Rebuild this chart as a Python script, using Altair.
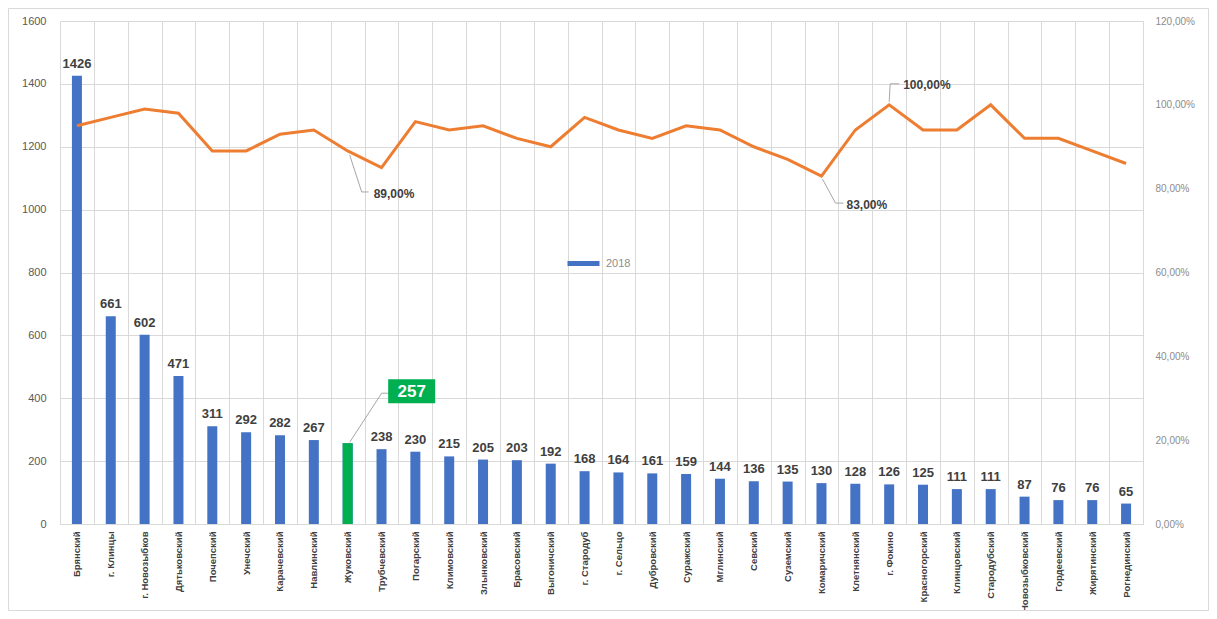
import altair as alt
import pandas as pd

categories = ["Брянский", "г. Клинцы", "г. Новозыбков", "Дятьковский", "Почепский", "Унечский",
              "Карачевский", "Навлинский", "Жуковский", "Трубчевский", "Погарский", "Климовский",
              "Злынковский", "Брасовский", "Выгоничский", "г. Стародуб", "г. Сельцо", "Дубровский",
              "Суражский", "Мглинский", "Севский", "Суземский", "Комаричский", "Клетнянский",
              "г. Фокино", "Красногорский", "Клинцовский", "Стародубский", "Новозыбковский",
              "Гордеевский", "Жирятинский", "Рогнединский"]
counts = [1426, 661, 602, 471, 311, 292, 282, 267, 257, 238, 230, 215, 205, 203, 192, 168,
          164, 161, 159, 144, 136, 135, 130, 128, 126, 125, 111, 111, 87, 76, 76, 65]
shares = [0.95, 0.97, 0.99, 0.98, 0.89, 0.89, 0.93, 0.94, 0.89, 0.85, 0.96, 0.94, 0.95, 0.92,
          0.90, 0.97, 0.94, 0.92, 0.95, 0.94, 0.90, 0.87, 0.83, 0.94, 1.00, 0.94, 0.94, 1.00,
          0.92, 0.92, 0.89, 0.86]
series_name = "2018"
highlight = "Жуковский"
share_labelled = ["Жуковский", "Комаричский", "г. Фокино"]
left_ticks = [0, 200, 400, 600, 800, 1000, 1200, 1400, 1600]
right_ticks = [0, 0.2, 0.4, 0.6, 0.8, 1.0, 1.2]

df = pd.DataFrame({"cat": categories, "count": counts, "share": shares, "series": series_name})
df["share_txt"] = [f"{v * 100:.2f}".replace(".", ",") + "%" for v in shares]

W, H = 1083, 503
FONT = "Liberation Sans"
BLUE, GREEN, ORANGE = "#4472C4", "#00B050", "#ED7D31"
LEAD = "#A6A6A6"

x_axis = alt.Axis(title=None, labelAngle=270, labelFontSize=9.5, labelFont=FONT,
                  labelFontWeight="bold", labelColor="#404040", grid=True, gridColor="#d9d9d9",
                  tickBand="extent", ticks=False, domainColor="#d9d9d9", labelPadding=7)
x_scale = alt.Scale(domain=categories, paddingInner=0, paddingOuter=0)
X = alt.X("cat:N", sort=categories, scale=x_scale, axis=x_axis)
XR = alt.X("cat:N", sort=categories, scale=x_scale, axis=x_axis, bandPosition=0.5)
X2R = alt.X2("cat:N", bandPosition=0.5)

Y = alt.Y("count:Q", scale=alt.Scale(domain=[0, 1600], nice=False),
          axis=alt.Axis(values=left_ticks, format="d", title=None, grid=True, gridColor="#d9d9d9",
                        domain=False, ticks=False, labelColor="#595959", labelFontSize=11,
                        labelFont=FONT, labelPadding=14))
Y2 = alt.Y2("count:Q")
YS = alt.Y("share:Q", scale=alt.Scale(domain=[0, 1.2], nice=False),
           axis=alt.Axis(orient="right", values=right_ticks, title=None, grid=False,
                         domain=False, ticks=False, labelColor="#8c8c8c", labelFontSize=10,
                         labelFont=FONT, labelPadding=12,
                         labelExpr="replace(format(datum.value * 100, '.2f'), '.', ',') + '%'"))
YS2 = alt.Y2("share:Q")

base = alt.Chart(df)

bars = base.mark_bar(size=10).encode(
    x=X, y=Y,
    color=alt.Color("series:N", scale=alt.Scale(domain=[series_name], range=[BLUE]),
                    legend=alt.Legend(title=None, orient="none", legendX=505, legendY=224,
                                      symbolType="stroke", symbolSize=1024, symbolStrokeWidth=5,
                                      symbolStrokeColor=BLUE, labelFontSize=11, labelFont=FONT,
                                      labelColor="#8c8c8c", padding=0)))
hl = base.transform_filter(alt.datum.cat == highlight)
green_bar = hl.mark_bar(size=10, color=GREEN).encode(x=X, y=Y)

bar_labels = base.transform_filter(alt.datum.cat != highlight).mark_text(
    baseline="bottom", dy=-5, fontSize=13, fontWeight="bold", font=FONT, color="#404040"
).encode(x=X, y=Y, text="count:Q")

hl_lead1 = hl.mark_rule(color=LEAD, strokeWidth=1, xOffset=2, yOffset=-1,
                        x2Offset=34, y2Offset=-50).encode(x=XR, x2=X2R, y=Y, y2=Y2)
hl_lead2 = hl.mark_rule(color=LEAD, strokeWidth=1, xOffset=34, yOffset=-50,
                        x2Offset=42, y2Offset=-50).encode(x=XR, x2=X2R, y=Y, y2=Y2)
hl_box = hl.mark_rect(width=47, height=24, xOffset=64, yOffset=-52, color=GREEN).encode(x=X, y=Y)
hl_text = hl.mark_text(dx=64, dy=-51, baseline="middle", fontSize=17, fontWeight="bold",
                       font=FONT, color="white").encode(x=X, y=Y, text="count:Q")

left = alt.layer(bars, green_bar, bar_labels, hl_lead1, hl_lead2, hl_box, hl_text)

line = base.mark_line(color=ORANGE, strokeWidth=3).encode(x=X, y=YS)


def share_label(name, seg1, seg2, tdx, tdy):
    d = base.transform_filter(alt.datum.cat == name)
    r1 = d.mark_rule(color=LEAD, strokeWidth=1, xOffset=seg1[0], yOffset=seg1[1],
                     x2Offset=seg1[2], y2Offset=seg1[3]).encode(x=XR, x2=X2R, y=YS, y2=YS2)
    r2 = d.mark_rule(color=LEAD, strokeWidth=1, xOffset=seg2[0], yOffset=seg2[1],
                     x2Offset=seg2[2], y2Offset=seg2[3]).encode(x=XR, x2=X2R, y=YS, y2=YS2)
    t = d.mark_text(align="left", baseline="middle", dx=tdx, dy=tdy, fontSize=12,
                    fontWeight="bold", font=FONT, color="#404040").encode(x=X, y=YS, text="share_txt:N")
    return [r1, r2, t]


lbls = []
lbls += share_label(share_labelled[0], (2, 4, 14, 41), (14, 41, 21, 41), 26, 43)
lbls += share_label(share_labelled[1], (1, 3, 14, 27), (14, 27, 22, 27), 25, 29)
lbls += share_label(share_labelled[2], (0, -3, 1, -21), (1, -21, 10, -21), 14, -20)

right = alt.layer(line, *lbls)

border = alt.Chart(pd.DataFrame({"a": [0]})).mark_rect(
    fill=None, stroke="#d9d9d9", strokeWidth=1
).encode(x=alt.value(-51.5), x2=alt.value(W + 65.5), y=alt.value(-12.5), y2=alt.value(H + 86.5))

chart = alt.layer(left, right, border).resolve_scale(y="independent").properties(
    width=W, height=H,
    autosize=alt.AutoSizeParams(type="none"),
    padding={"left": 52, "top": 13, "right": 66, "bottom": 87},
).configure_view(stroke=None).configure(background="white")

chart.save("out.html", embed_options={"renderer": "svg", "actions": False})
